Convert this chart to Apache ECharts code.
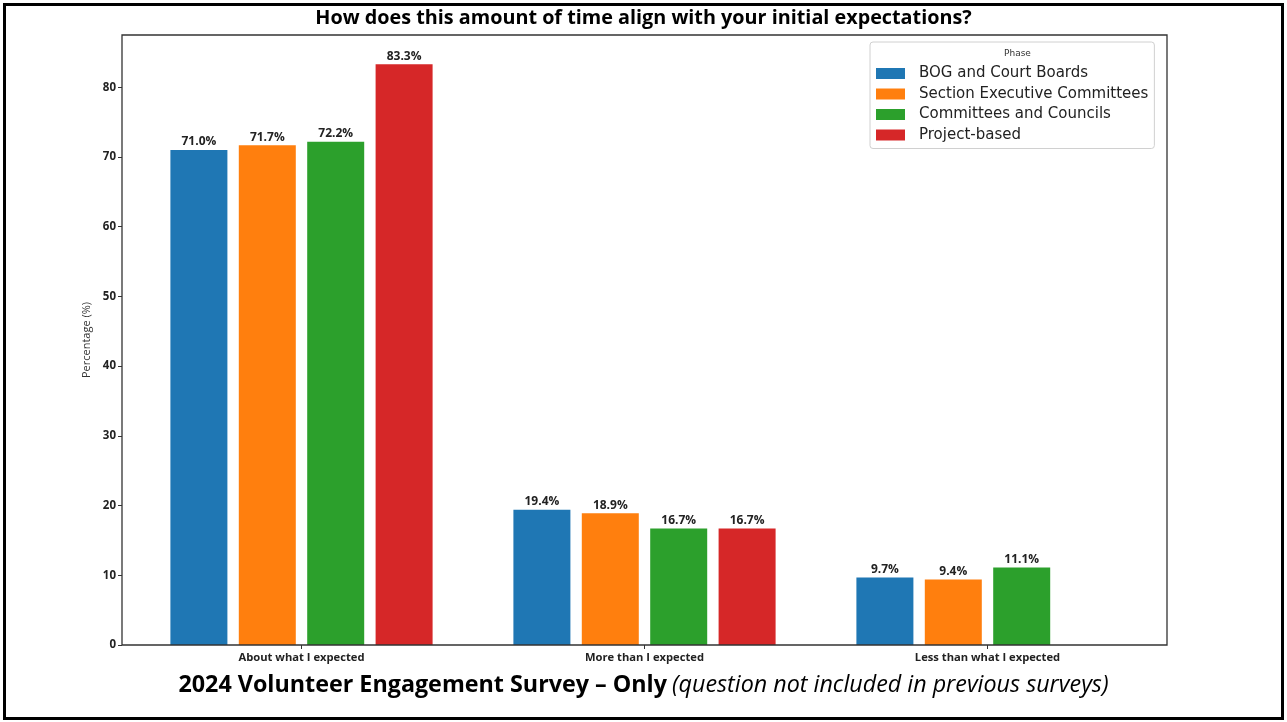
<!DOCTYPE html>
<html>
<head>
<meta charset="utf-8">
<script src="https://cdn.jsdelivr.net/npm/echarts@6/dist/echarts.min.js"></script>
<style>html,body{margin:0;padding:0;background:#fff;}#c{width:1287px;height:722px;}</style>
</head>
<body>
<div id="c"></div>
<script>
const categories = ['About what I expected', 'More than I expected', 'Less than what I expected'];
const seriesNames = ['BOG and Court Boards', 'Section Executive Committees', 'Committees and Councils', 'Project-based'];
const bogValues = [71.0, 19.4, 9.7];
const sectionValues = [71.7, 18.9, 9.4];
const committeesValues = [72.2, 16.7, 11.1];
const projectValues = [83.3, 16.7, null];
const yTicks = [0, 10, 20, 30, 40, 50, 60, 70, 80];
const colors = ['#1f77b4', '#ff7f0e', '#2ca02c', '#d62728'];
const titleText = 'How does this amount of time align with your initial expectations?';
const captionBold = '2024 Volunteer Engagement Survey – Only';
const captionItalic = '(question not included in previous surveys)';

const allValues = [bogValues, sectionValues, committeesValues, projectValues];
const font = 'Open Sans';

const chart = echarts.init(document.getElementById('c'), null, {renderer: 'canvas'});
chart.setOption({
  animation: false,
  backgroundColor: '#fff',
  title: [
    {text: titleText, left: 'center', top: 3,
     textStyle: {fontFamily: font, fontWeight: 'bold', fontSize: 19.8, color: '#000'}},
    {text: '{b|' + captionBold + '} {i|' + captionItalic + '}', left: 'center', top: 669,
     textStyle: {fontWeight: 'normal', rich: {
       b: {fontFamily: font, fontWeight: 'bold', fontSize: 23.3, color: '#000'},
       i: {fontFamily: font, fontWeight: 'normal', fontStyle: 'italic', fontSize: 23.3, color: '#000'}
     }}}
  ],
  legend: {
    data: seriesNames,
    orient: 'vertical',
    left: 870, top: 42,
    padding: [24, 6, 6, 6],
    backgroundColor: '#fff',
    borderColor: '#d0d0d0', borderWidth: 1, borderRadius: 3,
    icon: 'rect', itemWidth: 29, itemHeight: 11, itemGap: 5.5,
    textStyle: {fontFamily: 'DejaVu Sans', fontSize: 15, color: '#222', padding: [0, 0, 0, 9]}
  },
  grid: {left: 130, top: 35, width: 1029, height: 610, containLabel: false},
  xAxis: {
    type: 'category', data: categories,
    axisLine: {show: false},
    axisTick: {show: true, alignWithLabel: true, length: 4, lineStyle: {color: '#333'}},
    axisLabel: {fontFamily: font, fontWeight: 'bold', fontSize: 11.2, color: '#222', margin: 7}
  },
  yAxis: {
    type: 'value', min: 0, max: 87.5, interval: 10, offset: 8,
    name: 'Percentage (%)', nameLocation: 'middle', nameGap: 18,
    nameTextStyle: {fontFamily: font, fontSize: 11, color: '#333'},
    axisLine: {show: false},
    axisTick: {show: true, length: 4, lineStyle: {color: '#333'}, customValues: yTicks},
    axisLabel: {fontFamily: font, fontWeight: 'bold', fontSize: 11.5, color: '#222', margin: 6, customValues: yTicks},
    splitLine: {show: false}
  },
  series: allValues.map((vals, i) => ({
    name: seriesNames[i], type: 'bar', data: vals,
    barWidth: 57, barGap: '20%',
    itemStyle: {color: colors[i]},
    label: {show: true, position: 'top', distance: 2,
      formatter: p => p.value == null ? '' : p.value.toFixed(1) + '%',
      fontFamily: font, fontWeight: 'bold', fontSize: 12, color: '#222'}
  })),
  graphic: [
    {type: 'rect', z: 100, silent: true, shape: {x: 122, y: 35, width: 1045, height: 610},
     style: {fill: 'none', stroke: '#333', lineWidth: 1.3}},
    {type: 'rect', z: 100, silent: true, shape: {x: 4.5, y: 4.5, width: 1278, height: 714},
     style: {fill: 'none', stroke: '#000', lineWidth: 3}},
    {type: 'text', z: 100, silent: true, left: 1004, top: 49,
     style: {text: 'Phase', fontFamily: 'DejaVu Sans', fontSize: 9, fill: '#333'}}
  ]
});
</script>
</body>
</html>
